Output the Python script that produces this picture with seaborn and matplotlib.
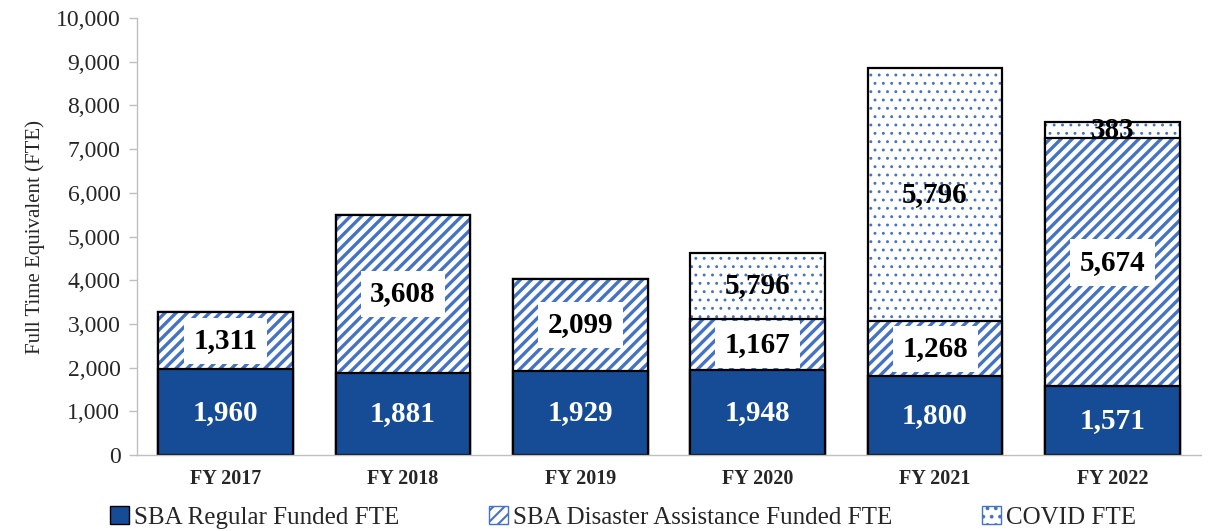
import matplotlib
matplotlib.use("Agg")
import matplotlib.pyplot as plt
import seaborn as sns
import numpy as np
from matplotlib.patches import Patch

# Data
years = ["FY 2017", "FY 2018", "FY 2019", "FY 2020", "FY 2021", "FY 2022"]
regular = [1960, 1881, 1929, 1948, 1800, 1571]
disaster = [1311, 3608, 2099, 1167, 1268, 5674]
covid = [0, 0, 0, 1505, 5796, 383]
covid_labels = ["", "", "", "5,796", "5,796", "383"]

NAVY = "#164B96"
BLUE = "#4472C4"
GREY = "#BFBFBF"
W = 0.76

sns.set_style("white")
plt.rcParams["font.family"] = ["Liberation Serif", "DejaVu Serif"]

fig = plt.figure(figsize=(12.15, 5.31), dpi=100)
ax = fig.add_axes([0.1128, 0.1431, 0.8757, 0.823])

reg = np.array(regular)
dis = np.array(disaster)
cov = np.array(covid)
top1 = reg + dis + cov
top2 = reg + dis


def layer(heights, hatch, face):
    # fill pass (hatch picks up the edge colour), then a black outline pass
    sns.barplot(x=years, y=heights, ax=ax, width=W, saturation=1,
                color=face, edgecolor=BLUE, linewidth=0, hatch=hatch)
    sns.barplot(x=years, y=heights, ax=ax, width=W, saturation=1,
                fill=False, edgecolor="black", linewidth=1.6)


plt.rcParams["hatch.linewidth"] = 0.9
layer(top1, "..", "white")
plt.rcParams["hatch.linewidth"] = 2.4
layer(top2, "///", "white")
sns.barplot(x=years, y=reg, ax=ax, width=W, saturation=1,
            color=NAVY, edgecolor="black", linewidth=1.6)

# labels
for i in range(len(years)):
    ax.text(i, reg[i] / 2, f"{regular[i]:,}", ha="center", va="center",
            color="white", fontsize=21, fontweight="bold")
    ax.text(i, reg[i] + dis[i] / 2, f"{disaster[i]:,}", ha="center", va="center",
            color="black", fontsize=21, fontweight="bold",
            bbox=dict(facecolor="white", edgecolor="none", pad=7))
    if covid_labels[i]:
        ax.text(i, top2[i] + cov[i] / 2, covid_labels[i], ha="center", va="center",
                color="black", fontsize=21, fontweight="bold")

ax.set_xlim(-0.5, len(years) - 0.5)
ax.set_ylim(0, 10000)
ax.set_yticks(range(0, 10001, 1000))
ax.set_yticklabels([f"{v:,}" for v in range(0, 10001, 1000)], fontsize=17)
ax.set_ylabel("Full Time Equivalent (FTE)", fontsize=15, labelpad=8)
ax.set_xlabel("")
ax.set_xticks(range(len(years)))
ax.set_xticklabels(years, fontsize=14.5, fontweight="bold")
ax.set_xticks(np.arange(0.5, len(years) - 0.5, 1), minor=True)
ax.tick_params(axis="x", which="major", length=0, pad=10)
ax.tick_params(axis="x", which="minor", length=6, color=GREY, width=1)
ax.tick_params(axis="y", length=6, color=GREY, width=1, pad=6, left=True)

sns.despine(ax=ax, top=True, right=True)
for s in ("left", "bottom"):
    ax.spines[s].set_color(GREY)
    ax.spines[s].set_linewidth(1)

plt.rcParams["hatch.linewidth"] = 1.5
handles = [
    Patch(facecolor=NAVY, edgecolor="black", linewidth=1),
    Patch(facecolor="white", edgecolor=BLUE, hatch="///", linewidth=1),
    Patch(facecolor="white", edgecolor=BLUE, hatch="..", linewidth=1),
]
fig.legend(handles, ["SBA Regular Funded FTE", "SBA Disaster Assistance Funded FTE", "COVID FTE"],
           loc="center", bbox_to_anchor=(0.513, 0.026), ncol=3, frameon=False,
           fontsize=18, handlelength=0.75, handleheight=0.75, handletextpad=0.2,
           columnspacing=3.6, borderaxespad=0)

fig.savefig("out.png", dpi=100)
